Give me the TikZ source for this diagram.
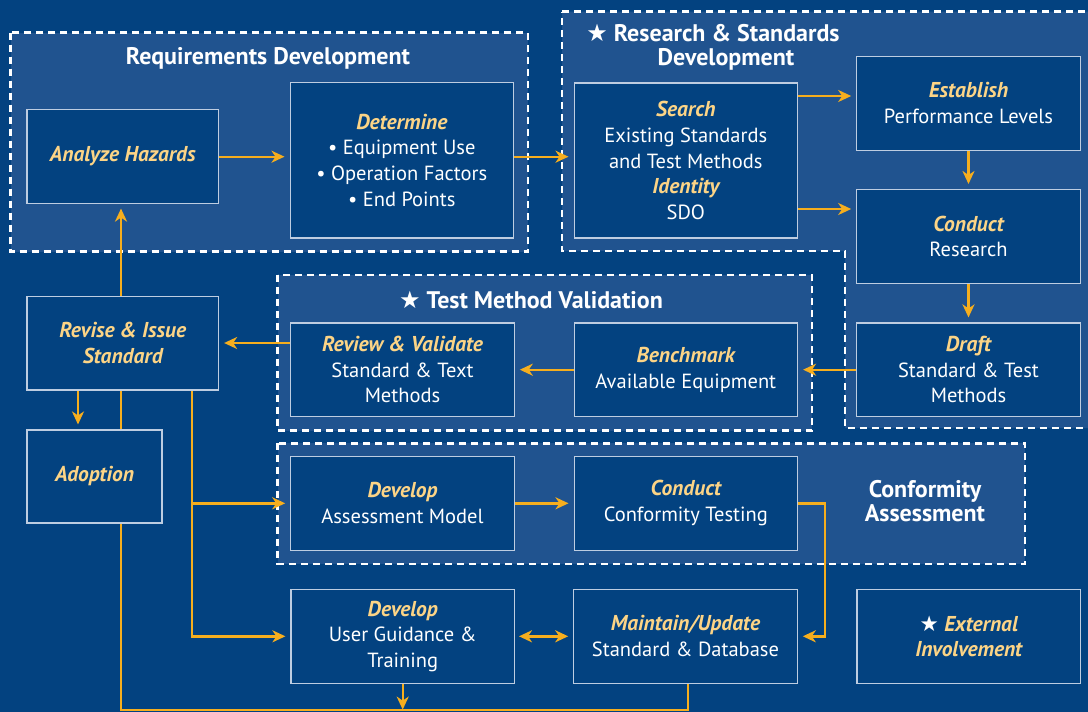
\documentclass[tikz,border=0pt]{standalone}
\usepackage{fontspec}
\setmainfont{PT Sans}
\newfontfamily\symfont{DejaVu Sans}
\usetikzlibrary{arrows.meta}
\definecolor{bgblue}{RGB}{3,66,128}
\definecolor{grpblue}{RGB}{32,83,143}
\definecolor{boxline}{RGB}{190,205,225}
\definecolor{labyellow}{RGB}{252,212,134}
\definecolor{arrowc}{RGB}{246,174,30}
\newcommand{\lab}[1]{{\fontsize{21.5}{25.7}\selectfont\bfseries\itshape\color{labyellow}#1}}
\newcommand{\wstar}{{\symfont\char"2605}}
\pgfdeclarelayer{back}
\pgfdeclarelayer{lines}
\pgfsetlayers{back,lines,main}
\begin{document}
\begin{tikzpicture}[x=1pt,y=-1pt,
  box/.style={draw=boxline,line width=1.1pt,fill=bgblue,text=white,align=center,inner sep=0pt,
    minimum width=223.5pt,minimum height=93.5pt,font=\fontsize{20.5}{25.7}\selectfont},
  grp/.style={draw=white,fill=grpblue,line width=2.5pt,dash pattern=on 7pt off 5pt},
  ln/.style={draw=arrowc,line width=2.4pt},
  arr/.style={ln,-{Stealth[length=13pt,width=12pt,inset=4pt]},shorten >=5pt},
  ttl/.style={text=white,font=\fontsize{24}{24}\selectfont\bfseries,align=center,inner sep=0pt}]
\useasboundingbox (0,0) rectangle (1088,712);
\begin{pgfonlayer}{back}
  \fill[bgblue] (0,0) rectangle (1088,712);
  \draw[grp] (10.7,32.7) rectangle (528,251.7);
  \draw[grp] (562,11.5) -- (1100,11.5) -- (1100,428) -- (845,428) -- (845,251) -- (562,251) -- cycle;
  \draw[grp] (277.5,275) rectangle (812,430.5);
  \draw[grp] (277.5,443.3) rectangle (1025,564);
\end{pgfonlayer}

% titles
\node[ttl] (tReq) at (268,58) {Requirements Development};
\node[ttl] (tRes) at (713,47) {\wstar\ Research \& Standards\\\hspace*{26pt}Development};
\node[ttl] (tTMV) at (531,300) {\wstar\ Test Method Validation};
\node[ttl] (tConf) at (925,501) {Conformity\\Assessment};

% boxes
\node[box,minimum width=191.6pt] (Analyze) at (122.8,156.3) {\lab{Analyze Hazards}};
\node[box,minimum height=155.3pt] (Determine) at (401.8,160.3) {\lab{Determine}\\\textbullet\ Equipment Use\\\textbullet\ Operation Factors\\\textbullet\ End Points};
\node[box,minimum height=155pt] (Search) at (685.8,160.5) {\lab{Search}\\Existing Standards\\and Test Methods\\\lab{Identity}\\SDO};
\node[box] (Establish) at (968.5,103.3) {\lab{Establish}\\Performance Levels};
\node[box] (Conduct) at (968.5,236.3) {\lab{Conduct}\\Research};
\node[box] (Draft) at (968.5,369.7) {\lab{Draft}\\Standard \& Test\\Methods};
\node[box] (Benchmark) at (685.8,369.7) {\lab{Benchmark}\\Available Equipment};
\node[box] (Review) at (402.5,369.7) {\lab{Review \& Validate}\\Standard \& Text\\Methods};
\node[box,minimum width=191.6pt,minimum height=93.3pt] (Revise) at (122.8,343.3) {\lab{Revise \& Issue}\\\lab{Standard}};
\node[box,minimum width=135pt,minimum height=93pt] (Adoption) at (94.5,476.5) {\lab{Adoption}};
\node[box] (DevAssess) at (402.5,503.3) {\lab{Develop}\\Assessment Model};
\node[box] (CondConf) at (685.8,503.3) {\lab{Conduct}\\Conformity Testing};
\node[box] (UserG) at (402.7,636.3) {\lab{Develop}\\User Guidance \&\\Training};
\node[box] (Maintain) at (685.5,636.3) {\lab{Maintain/Update}\\Standard \& Database};
\node[box] (External) at (968.7,636.3) {{\fontsize{21.5}{25.7}\selectfont\wstar}\ \lab{External}\\\lab{Involvement}};

% connectors
\begin{pgfonlayer}{lines}
  \draw[arr] (Analyze.east |- 0,156.7) -- (Determine.west |- 0,156.7);
  \draw[arr] (Determine.east |- 0,156.7) -- (Search.west |- 0,156.7);
  \draw[arr] (Search.east |- 0,96) -- (Establish.west |- 0,96);
  \draw[arr] (Search.east |- 0,209) -- (Conduct.west |- 0,209);
  \draw[arr] (Establish.south) -- (Conduct.north);
  \draw[arr] (Conduct.south) -- (Draft.north);
  \draw[arr] (Draft.west) -- (Benchmark.east);
  \draw[arr] (Benchmark.west) -- (Review.east);
  \draw[arr] (Review.west |- 0,343) -- (Revise.east |- 0,343);
  \draw[arr] (Revise.south -| 78,0) -- (Adoption.north -| 78,0);
  \draw[arr] (Revise.south -| 192,0) |- (DevAssess.west);
  \draw[arr] (Revise.south -| 192,0) |- (UserG.west);
  \draw[arr] (DevAssess.east) -- (CondConf.west);
  \draw[arr] (CondConf.east) -- ++(27,0) |- (Maintain.east);
  \draw[arr,shorten <=4pt,{Stealth[length=13pt,width=12pt,inset=4pt]}-{Stealth[length=13pt,width=12pt,inset=4pt]}] (UserG.east) -- (Maintain.west);
  \draw[arr,shorten >=0pt] (UserG.south) -- ++(0,26);
  \draw[arr] (Maintain.south -| 688,0) -- (688,710) -| (Analyze.south -| 121,0);
\end{pgfonlayer}
\end{tikzpicture}
\end{document}
